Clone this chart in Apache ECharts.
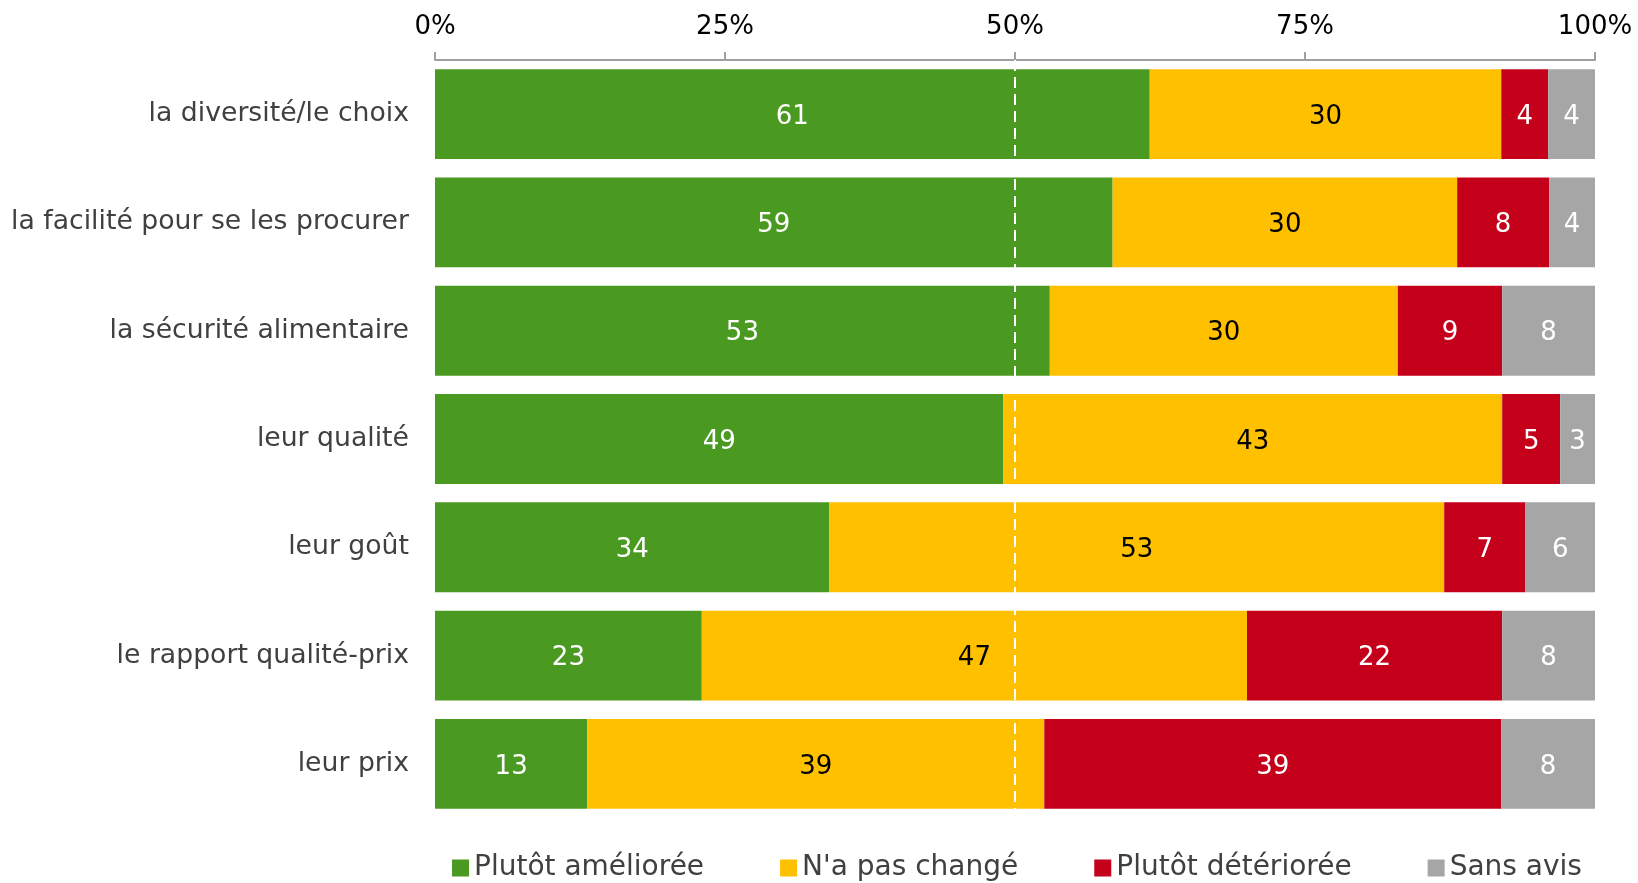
<!DOCTYPE html>
<html><head><meta charset="utf-8">
<script src="https://cdn.jsdelivr.net/npm/echarts@6/dist/echarts.min.js"></script>
<style>html,body{margin:0;padding:0;background:#fff}#c{width:1638px;height:883px}</style>
</head><body><div id="c"></div>
<script>
var categories = ["la diversité/le choix","la facilité pour se les procurer","la sécurité alimentaire","leur qualité","leur goût","le rapport qualité-prix","leur prix"];
var ameliore = [61,59,53,49,34,23,13];
var inchange = [30,30,30,43,53,47,39];
var deteriore = [4,8,9,5,7,22,39];
var sansAvis = [4,4,8,3,6,8,8];
var seriesNames = ["Plutôt améliorée","N'a pas changé","Plutôt détériorée","Sans avis"];
var tickLabels = ["0%","25%","50%","75%","100%"];

var raw = [ameliore, inchange, deteriore, sansAvis];
var totals = categories.map(function(_, i){ return raw.reduce(function(s, arr){ return s + arr[i]; }, 0); });
var colors = ["#4A9A21","#FFC000","#C5001A","#A6A6A6"];
var labelColors = ["#fff","#000","#fff","#fff"];
var FONT = "'DejaVu Sans', Verdana, sans-serif";

var series = raw.map(function(arr, k){
  var s = {
    name: seriesNames[k], type: 'bar', stack: 'total', barCategoryGap: '17%',
    itemStyle: { color: colors[k] },
    label: { show: true, position: 'inside', color: labelColors[k], fontSize: 26, fontFamily: FONT,
      offset: [0, 3],
      formatter: function(p){ return p.data.raw; } },
    data: arr.map(function(v, i){ return { value: v / totals[i] * 100, raw: v }; })
  };
  return s;
});
series[3].markLine = { silent: true, symbol: 'none', label: { show: false },
  lineStyle: { color: '#fff', type: [11, 6], width: 2 },
  data: [{ xAxis: 50 }] };

var chart = echarts.init(document.getElementById('c'), null, { renderer: 'canvas' });
chart.setOption({
  animation: false,
  textStyle: { fontFamily: FONT },
  grid: { left: 435, right: 43, top: 60, bottom: 65, containLabel: false },
  xAxis: {
    type: 'value', position: 'top', min: 0, max: 100, interval: 25,
    axisLine: { show: true, lineStyle: { color: '#A0A0A0', width: 2 } },
    axisTick: { show: true, length: 8, lineStyle: { color: '#A0A0A0', width: 2 } },
    splitLine: { show: false },
    axisLabel: { fontSize: 26, color: '#000', fontFamily: FONT, margin: 20,
      formatter: function(v){ return tickLabels[Math.round(v / 25)]; } }
  },
  yAxis: {
    type: 'category', inverse: true, data: categories,
    axisLine: { show: false }, axisTick: { show: false },
    axisLabel: { fontSize: 26.7, color: '#404040', fontFamily: FONT, margin: 26, padding: [12, 0, 0, 0] }
  },
  legend: {
    data: seriesNames, left: 452, top: 854, padding: 0, icon: 'rect', itemWidth: 17, itemHeight: 17, itemGap: 76,
    textStyle: { fontSize: 28, color: '#404040', fontFamily: FONT }
  },
  series: series
});
</script></body></html>
